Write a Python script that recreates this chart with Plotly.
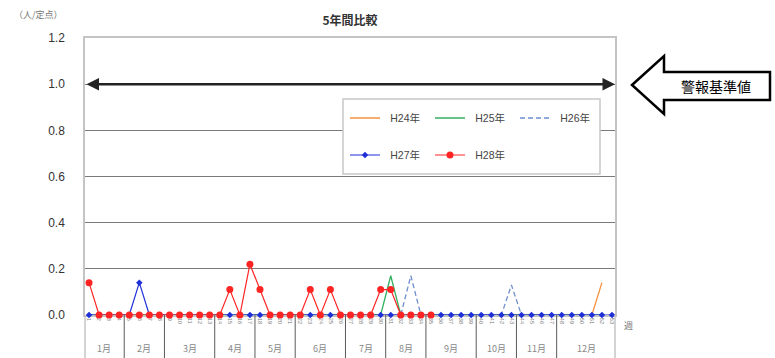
import plotly.graph_objects as go

# ---------------- data ----------------
weeks = list(range(1, 54))
week_labels = [str(w) for w in weeks]

h24 = [0.0] * 51 + [0.14]
h25 = [0.0] * 30 + [0.17] + [0.0] * 21
h26 = [0.0] * 32 + [0.17] + [0.0] * 9 + [0.13] + [0.0] * 9
h27 = [0.0] * 5 + [0.14] + [0.0] * 47
h28 = ([0.14] + [0.0] * 13 + [0.11, 0.0, 0.22, 0.11, 0.0, 0.0, 0.0, 0.0,
        0.11, 0.0, 0.11, 0.0, 0.0, 0.0, 0.0, 0.11, 0.11, 0.0, 0.0, 0.0, 0.0])

months = ["1月", "2月", "3月", "4月", "5月", "6月", "7月", "8月", "9月", "10月", "11月", "12月"]
month_weeks = [4, 4, 5, 4, 4, 5, 4, 4, 5, 4, 4, 6]

alert_level = 1.0
y_ticks = [0.0, 0.2, 0.4, 0.6, 0.8, 1.0, 1.2]

# ---------------- geometry helpers ----------------
W, H = 775, 358
ML, MR, MT, MB = 85, 160, 38, 43
PW, PH = W - ML - MR, H - MT - MB


def px2x(px):
    return (px - ML) / PW


def py2y(py):
    return (H - MB - py) / PH


NUM_FONT = "Liberation Sans, Arial, Noto Sans CJK JP"
JP_FONT = "Noto Sans CJK JP, Liberation Sans"
SP = "\u2002"

fig = go.Figure()

series = [
    ("H24年", h24, dict(color="#F5923E", width=1.3), None, "legend"),
    ("H25年", h25, dict(color="#33B060", width=1.3), None, "legend"),
    ("H26年", h26, dict(color="#6F8FCF", width=1.3, dash="5px,3px"), None, "legend"),
    ("H27年", h27, dict(color="#1F2FD8", width=1.2), dict(symbol="diamond", size=5, color="#1F2FD8"), "legend2"),
    ("H28年", h28, dict(color="#FF2424", width=1.2), dict(symbol="circle", size=7, color="#FF2424"), "legend2"),
]
for name, vals, line, marker, lg in series:
    fig.add_trace(go.Scatter(
        x=weeks[:len(vals)], y=vals, name=SP + name,
        mode="lines+markers" if marker else "lines",
        line=line, marker=marker, legend=lg, cliponaxis=False,
        hoverinfo="skip",
    ))

shapes = []
# month separators below the plot
cum = 0
for n in month_weeks[:-1]:
    cum += n
    shapes.append(dict(type="line", xref="x", yref="paper", x0=cum + 0.5, x1=cum + 0.5,
                       y0=0, y1=-MB / PH, line=dict(color="#5a5a5a", width=1)))
# border extensions
for xe in (0, 1):
    shapes.append(dict(type="line", xref="paper", yref="paper", x0=xe, x1=xe,
                       y0=0, y1=-MB / PH, line=dict(color="#c4c4c4", width=1.5)))
# legend box
shapes.append(dict(type="rect", xref="paper", yref="paper",
                   x0=px2x(343), x1=px2x(600), y0=py2y(174), y1=py2y(99),
                   line=dict(color="#c8c8c8", width=1.5), fillcolor="white", layer="above"))
# callout arrow
pts = [(632, 85), (664, 56), (664, 72), (770, 72), (770, 100), (664, 100), (664, 114)]
path = "M " + " L ".join(f"{px2x(a):.5f},{py2y(b):.5f}" for a, b in pts) + " Z"
shapes.append(dict(type="path", xref="paper", yref="paper", path=path,
                   line=dict(color="black", width=2.5), fillcolor="white", layer="above"))


def note(x, y, text, font, xref="paper", yref="paper"):
    return dict(x=x, y=y, xref=xref, yref=yref, text=text, showarrow=False,
                xanchor="center", yanchor="middle", font=font)


annotations = []
# alert threshold double arrow
annotations.append(dict(x=53.3, y=alert_level, ax=0.6, ay=alert_level, xref="x", yref="y",
                        axref="x", ayref="y", text="", showarrow=True, arrowhead=2,
                        arrowside="end+start", arrowsize=1, arrowwidth=2.5, arrowcolor="#222"))
annotations.append(note(px2x(716), py2y(86), "警報基準値",
                        dict(family=JP_FONT, size=14, color="black")))
# month labels
start = 0
for m, n in zip(months, month_weeks):
    center = start + (n + 1) / 2
    annotations.append(note(center, py2y(348), m, dict(family=JP_FONT, size=9, color="#888"),
                            xref="x"))
    start += n
annotations.append(note(px2x(628), py2y(325), "週", dict(family=JP_FONT, size=9, color="#777")))
annotations.append(note(px2x(38), py2y(15), "（人/定点）", dict(family=JP_FONT, size=9, color="#777")))

legend_common = dict(orientation="h", xanchor="left", yanchor="middle", bgcolor="rgba(0,0,0,0)",
                     borderwidth=0, font=dict(family=NUM_FONT, size=10.5, color="#444"),
                     entrywidth=40, entrywidthmode="pixels", itemwidth=30,
                     xref="paper", yref="paper")

fig.update_layout(
    width=W, height=H,
    margin=dict(l=ML, r=MR, t=MT, b=MB),
    paper_bgcolor="white", plot_bgcolor="white",
    title=dict(text="<b>5年間比較</b>", x=0.5, xref="paper", xanchor="center",
               y=1 - 21 / H, yref="container", yanchor="middle",
               font=dict(family=JP_FONT, size=12, color="#333")),
    xaxis=dict(range=[0.6, 53.3], tickvals=weeks, ticktext=week_labels, tickangle=90,
               tickfont=dict(family=NUM_FONT, size=5.5, color="#777"), ticks="",
               showgrid=False, zeroline=False, showline=True, mirror=True,
               linecolor="#c4c4c4", linewidth=1.5, layer="below traces", fixedrange=True),
    yaxis=dict(range=[0, 1.2], tickvals=y_ticks, tickformat=".1f",
               tickfont=dict(family=NUM_FONT, size=12, color="#333"), ticks="",
               ticklabelstandoff=16, showgrid=True, gridcolor="#7a7a7a", gridwidth=1,
               zeroline=False, showline=True, mirror=True, linecolor="#c4c4c4",
               linewidth=1.5, layer="below traces", fixedrange=True),
    legend=dict(legend_common, x=px2x(345), y=py2y(118)),
    legend2=dict(legend_common, x=px2x(345), y=py2y(155)),
    shapes=shapes,
    annotations=annotations,
    showlegend=True,
)

fig.write_html("out.html")
